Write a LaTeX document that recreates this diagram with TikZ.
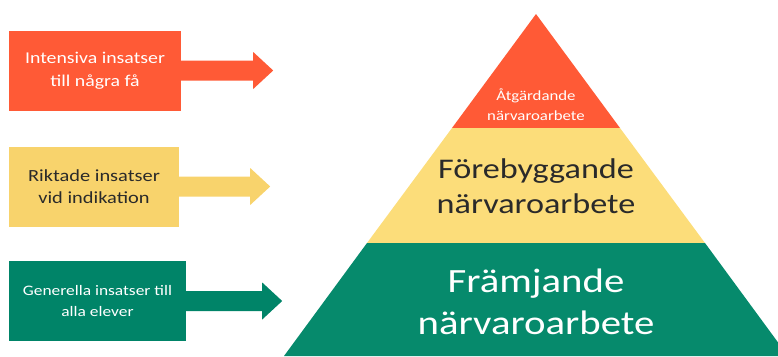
\documentclass[tikz,border=0pt]{standalone}
\usepackage{fontspec}
\setmainfont{Carlito}[FakeStretch=1.2]
\usetikzlibrary{positioning,calc}
\definecolor{akut}{HTML}{FF5A36}
\definecolor{riktad}{HTML}{F8D36C}
\definecolor{riktadlj}{HTML}{FCDD7A}
\definecolor{generell}{HTML}{008468}
\definecolor{generelllj}{HTML}{068A6C}
\definecolor{mork}{HTML}{2A2A2A}
\tikzset{
  insats/.style={minimum height=80pt,align=center,inner sep=0pt},
  pil/.style={fill=#1}
}
\begin{document}
\begin{tikzpicture}[x=1pt,y=-1pt]
\useasboundingbox (0,0) rectangle (778,356);
\clip (0,0) rectangle (778,356);
% insatsnivaer till vanster
\node[insats,fill=akut,minimum width=172pt,text=white,font=\fontsize{16.5}{23}\selectfont] (Akut) at (95,70.5) {Intensiva insatser\\till några få};
\node[insats,fill=riktad,minimum width=170pt,text=mork,font=\fontsize{17}{22}\selectfont] (Riktad) at (94,186.5) {Riktade insatser\\vid indikation};
\node[insats,fill=generell,minimum width=177pt,text=white,font=\fontsize{14.5}{21}\selectfont] (Generell) at (97.5,301) {Generella insatser till\\alla elever};
\foreach \b/\c/\l in {Akut/akut/72,Riktad/riktad/71,Generell/generell/76}
  \fill[pil=\c] ([yshift=-10pt]\b.east) -- ++(\l,0) -- ++(0,8.5) -- ++(20,-18.5)
    -- ++(-20,-18.5) -- ++(0,8.5) -- ([yshift=10pt]\b.east) -- cycle;
% pyramiden
\coordinate (Topp) at (536,14);
\coordinate (V1) at (452,128); \coordinate (H1) at (620,128);
\coordinate (V2) at (367,243); \coordinate (H2) at (705,243);
\coordinate (V3) at (284,356); \coordinate (H3) at (788,356);
\fill[akut] (Topp) -- (H1) -- (V1) -- cycle;
\fill[riktadlj] (V1) -- (H1) -- (H2) -- (V2) -- cycle;
\fill[generelllj] (V2) -- (H2) -- (H3) -- (V3) -- cycle;
\node[text=white,align=center,font=\fontsize{14}{20}\selectfont] (Atgard) at (536,105) {Åtgärdande\\närvaroarbete};
\node[text=mork,align=center,font=\fontsize{28.5}{35}\selectfont] (Forebygg) at (536,186) {Förebyggande\\närvaroarbete};
\node[text=white,align=center,font=\fontsize{34}{42}\selectfont] (Framja) at (536,302) {Främjande\\närvaroarbete};
\end{tikzpicture}
\end{document}
